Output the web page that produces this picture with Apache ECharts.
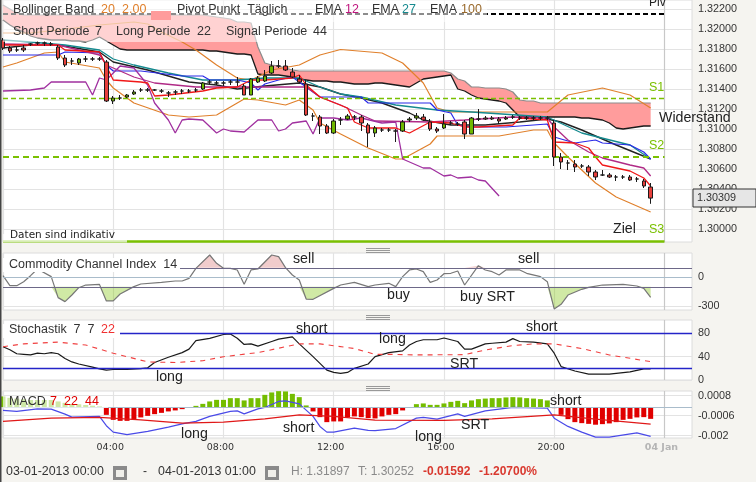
<!DOCTYPE html>
<html>
<head>
<meta charset="utf-8">
<style>html,body{margin:0;padding:0;background:#f5f4f0}#main{width:756px;height:482px}</style>
<script src="https://cdn.jsdelivr.net/npm/echarts@6/dist/echarts.min.js"></script>
</head>
<body>
<div id="main"></div>
<script>
// candles, 15 minute steps from 00:00 on 03 Jan
const candleOpen = [1.3189,1.3181,1.3179,1.3181,1.3185,1.3186,1.3186,1.3185,1.3182,1.3171,
1.3168,1.3166,1.3170,1.3170,1.3170,1.3167,1.3128,1.3131,1.3132,1.3135,
1.3139,1.3139,1.3139,1.3138,1.3136,1.3137,1.3138,1.3138,1.3139,1.3140,
1.3147,1.3146,1.3146,1.3147,1.3147,1.3143,1.3134,1.3147,1.3148,1.3156,
1.3163,1.3163,1.3157,1.3150,1.3145,1.3113,1.3112,1.3103,1.3096,1.3109,
1.3110,1.3112,1.3112,1.3104,1.3096,1.3099,1.3099,1.3098,1.3098,1.3109,
1.3111,1.3112,1.3107,1.3100,1.3101,1.3106,1.3105,1.3107,1.3095,1.3110,
1.3111,1.3111,1.3110,1.3110,1.3112,1.3111,1.3111,1.3111,1.3111,1.3111,
1.3106,1.3072,1.3066,1.3065,1.3063,1.3062,1.3057,1.3054,1.3054,1.3052,
1.3052,1.3052,1.3050,1.3048,1.3042];
const candleClose = [1.3181,1.3178,1.3179,1.3179,1.3185,1.3186,1.3186,1.3185,1.3171,1.3164,
1.3168,1.3170,1.3170,1.3170,1.3170,1.3128,1.3131,1.3131,1.3134,1.3137,
1.3139,1.3139,1.3139,1.3138,1.3136,1.3137,1.3138,1.3138,1.3139,1.3146,
1.3147,1.3146,1.3146,1.3147,1.3147,1.3134,1.3150,1.3151,1.3153,1.3163,
1.3163,1.3159,1.3152,1.3147,1.3114,1.3113,1.3103,1.3096,1.3108,1.3109,
1.3113,1.3112,1.3106,1.3096,1.3101,1.3099,1.3099,1.3098,1.3107,1.3110,
1.3113,1.3109,1.3100,1.3098,1.3105,1.3106,1.3105,1.3095,1.3111,1.3110,
1.3110,1.3110,1.3108,1.3111,1.3112,1.3111,1.3111,1.3111,1.3111,1.3111,
1.3072,1.3067,1.3066,1.3062,1.3063,1.3057,1.3052,1.3054,1.3052,1.3052,
1.3052,1.3049,1.3050,1.3043,1.30309];
const candleLow = [1.3179,1.3176,1.3177,1.3177,1.3183,1.3184,1.3183,1.3183,1.3169,1.3162,
1.3164,1.3164,1.3167,1.3168,1.3168,1.3127,1.3125,1.3129,1.3131,1.3134,
1.3137,1.3137,1.3138,1.3136,1.3132,1.3134,1.3135,1.3136,1.3137,1.3139,
1.3145,1.3144,1.3143,1.3144,1.3143,1.3134,1.3134,1.3146,1.3147,1.3155,
1.3161,1.3158,1.3151,1.3146,1.3113,1.3108,1.3095,1.3095,1.3095,1.3104,
1.3109,1.3109,1.3098,1.3082,1.3092,1.3097,1.3097,1.3087,1.3097,1.3107,
1.3109,1.3108,1.3098,1.3096,1.3100,1.3104,1.3103,1.3090,1.3095,1.3108,
1.3109,1.3109,1.3105,1.3109,1.3110,1.3109,1.3109,1.3109,1.3109,1.3109,
1.3063,1.3060,1.3059,1.3057,1.3061,1.3053,1.3049,1.3053,1.3051,1.3048,
1.3050,1.3048,1.3047,1.3041,1.30252];
const candleHigh = [1.3191,1.3183,1.3182,1.3184,1.3186,1.3188,1.3188,1.3187,1.3184,1.3174,
1.3171,1.3171,1.3173,1.3172,1.3172,1.3169,1.3133,1.3134,1.3135,1.3139,
1.3141,1.3141,1.3140,1.3140,1.3138,1.3139,1.3140,1.3140,1.3141,1.3147,
1.3149,1.3148,1.3148,1.3149,1.3152,1.3145,1.3151,1.3153,1.3159,1.3168,
1.3169,1.3169,1.3161,1.3154,1.3149,1.3116,1.3114,1.3105,1.3110,1.3112,
1.3115,1.3114,1.3114,1.3106,1.3103,1.3101,1.3101,1.3100,1.3109,1.3112,
1.3116,1.3115,1.3110,1.3102,1.3115,1.3108,1.3107,1.3109,1.3112,1.3120,
1.3113,1.3113,1.3112,1.3113,1.3114,1.3113,1.3113,1.3113,1.3113,1.3113,
1.3109,1.3076,1.3069,1.3069,1.3065,1.3064,1.3059,1.3059,1.3056,1.3054,
1.3054,1.3054,1.3052,1.3050,1.3046];

// pink cloud
const cloudUpper = [1.3224,1.3220,1.3216,1.3214,1.3214,1.3214,1.3214,1.3214,1.3214,1.3214,
1.3214,1.3214,1.3214,1.3214,1.3214,1.3214,1.3214,1.3214,1.3214,1.3214,
1.3214,1.3214,1.3214,1.3214,1.3214,1.3214,1.3214,1.3214,1.3214,1.3214,
1.3213,1.3212,1.3211,1.3210,1.3207,1.3207,1.3206,1.3182,1.3166,1.3164,
1.3163,1.3161,1.3159,1.3158,1.3158,1.3158,1.3158,1.3158,1.3158,1.3158,
1.3158,1.3158,1.3158,1.3158,1.3158,1.3158,1.3158,1.3158,1.3158,1.3158,
1.3158,1.3158,1.3158,1.3158,1.3158,1.3156,1.3150,1.3148,1.3142,1.3142,
1.3141,1.3141,1.3141,1.3140,1.3137,1.3129,1.3128,1.3128,1.3126,1.3126,
1.3126,1.3126,1.3126,1.3126,1.3126,1.3126,1.3126,1.3126,1.3126,1.3126,
1.3126,1.3126,1.3126,1.3126,1.3126];
const cloudLower = [1.3209,1.3204,1.3200,1.3197,1.3193,1.3191,1.3190,1.3189,1.3189,1.3189,
1.3188,1.3188,1.3187,1.3189,1.3192,1.3188,1.3184,1.3180,1.3179,1.3179,
1.3179,1.3179,1.3179,1.3179,1.3179,1.3179,1.3179,1.3179,1.3179,1.3179,
1.3178,1.3178,1.3177,1.3176,1.3175,1.3175,1.3174,1.3155,1.3154,1.3154,
1.3154,1.3153,1.3152,1.3150,1.3149,1.3148,1.3148,1.3148,1.3147,1.3147,
1.3146,1.3145,1.3145,1.3145,1.3146,1.3146,1.3145,1.3144,1.3143,1.3142,
1.3146,1.3150,1.3151,1.3152,1.3153,1.3154,1.3140,1.3138,1.3134,1.3131,
1.3130,1.3129,1.3128,1.3126,1.3119,1.3112,1.3112,1.3112,1.3112,1.3112,
1.3112,1.3112,1.3112,1.3112,1.3111,1.3111,1.3110,1.3109,1.3106,1.3101,
1.3100,1.3101,1.3102,1.3103,1.3103];

// overlay lines as [candle index, price]
const bollUpper = [[0,1.3196],[4,1.3196],[8,1.3199],[14,1.3204],[19,1.3207],[21,1.3205],[23,1.3197],[26,1.3187],[28,1.3179],[31,1.3164],[34,1.3151],[36,1.3149],[39,1.3159],[43,1.3164],[46,1.3174],[49,1.31795],[55,1.3176],[58,1.3166],[61,1.3146],[63,1.3121],[65,1.3117],[72,1.3117],[79,1.3117],[82,1.3134],[87,1.3141],[91,1.3134],[94,1.3121]];
const bollLower = [[0,1.3162],[2,1.3166],[6,1.3176],[8,1.3177],[9,1.3167],[14,1.3161],[15,1.3149],[16,1.3141],[19,1.3126],[24,1.3114],[27,1.3112],[31,1.3114],[33,1.3122],[35,1.3130],[37,1.3129],[41,1.3124],[43,1.3129],[45,1.3119],[46,1.3106],[49,1.3095],[53,1.3081],[57,1.3070],[58,1.3070],[62,1.3085],[63,1.3093],[72,1.3093],[77,1.3099],[79,1.3099],[80,1.3086],[82,1.3072],[86,1.3046],[89,1.3032],[94,1.3017]];
const purpleLine = [[0,1.3138],[4,1.3139],[6,1.3141],[7,1.3147],[9,1.3147],[12,1.3147],[13,1.3134],[14,1.3151],[15,1.3149],[17,1.3163],[19,1.3161],[21,1.3144],[22,1.3126],[24,1.3109],[25,1.3096],[26,1.3109],[27,1.3110],[29,1.3109],[31,1.3096],[32,1.3100],[33,1.3098],[35,1.3097],[37,1.3109],[39,1.3109],[40,1.3098],[41,1.3100],[42,1.3106],[44,1.3108],[45,1.3095],[46,1.3111],[48,1.3111],[50,1.3109],[52,1.3111],[55,1.3106],[57,1.3107],[58,1.3070],[61,1.3061],[62,1.3061],[64,1.3053],[65,1.3054],[66,1.3051],[68,1.3052],[69,1.3049],[70,1.3048],[72,1.3033]];
const ema12 = [[0,1.3185],[8,1.3184],[14,1.3174],[15,1.3164],[19,1.3152],[22,1.3146],[28,1.3142],[44,1.3142],[46,1.3132],[49,1.3124],[52,1.3114],[54,1.3108],[62,1.3107],[67,1.3109],[74,1.3112],[79,1.3111],[80,1.3102],[82,1.3089],[85,1.3077],[87,1.3071],[91,1.3064],[93,1.3061],[94,1.3053]];
const ema27 = [[0,1.3189],[4,1.3187],[9,1.3184],[14,1.3179],[16,1.3170],[19,1.3164],[24,1.3156],[29,1.3149],[34,1.3149],[38,1.3151],[43,1.3151],[46,1.3142],[49,1.3135],[52,1.3132],[57,1.3124],[63,1.3119],[68,1.3117],[79,1.3112],[84,1.3096],[91,1.3084],[94,1.3070]];
const ema100 = [[0,1.3181],[4,1.3184],[8,1.3184],[14,1.3177],[16,1.3167],[21,1.3159],[27,1.3147],[31,1.3144],[34,1.3140],[38,1.3143],[43,1.3146],[46,1.3142],[49,1.3135],[52,1.3131],[55,1.3126],[59,1.3116],[61,1.3109],[65,1.3104],[70,1.3104],[75,1.3107],[79,1.3110],[81,1.3107],[84,1.3099],[89,1.3084],[94,1.3070]];
const blueLine = [[0,1.3174],[8,1.3174],[9,1.3177],[14,1.3176],[15,1.3164],[16,1.3158],[20,1.3158],[26,1.3153],[29,1.3153],[30,1.3149],[34,1.3149],[36,1.3146],[37,1.3139],[38,1.3145],[40,1.3149],[42,1.3152],[43,1.3147],[46,1.3132],[52,1.3132],[53,1.3126],[62,1.3126],[63,1.3119],[65,1.3116],[66,1.3104],[68,1.3102],[73,1.3102],[79,1.3105],[80,1.3092],[83,1.3086],[86,1.3089],[87,1.3086],[91,1.3084],[93,1.3077],[94,1.3070]];
const redLine = [[0,1.3184],[8,1.3184],[9,1.3179],[14,1.3177],[15,1.3163],[16,1.3149],[20,1.3147],[21,1.3146],[22,1.3133],[24,1.3134],[29,1.3138],[31,1.3141],[34,1.3142],[36,1.3149],[38,1.3149],[42,1.3151],[43,1.3154],[44,1.3144],[46,1.3132],[50,1.3121],[51,1.3107],[53,1.3101],[57,1.3101],[59,1.3096],[62,1.3107],[65,1.3106],[67,1.3102],[69,1.3102],[74,1.3104],[75,1.3111],[79,1.3109],[80,1.3087],[83,1.3086],[85,1.3081],[86,1.3072],[87,1.3064],[91,1.3058],[93,1.3051],[94,1.3043]];

// pivot levels
const pivotLevel = 1.32153;
const s1Level = 1.31307;
const s2Level = 1.3072;
const s3Level = 1.2988;

// commodity channel index
const cciValues = [[0,17],[1,-88],[2,-88],[3,-46],[4,17],[5,87],[7,7],[8,-213],[9,-255],[10,-186],[11,-109],[12,-81],[14,-74],[15,-248],[16,-248],[17,-175],[19,-98],[20,-70],[23,-53],[25,-39],[26,-39],[27,-11],[28,94],[30,234],[31,147],[32,94],[33,94],[34,77],[35,-74],[36,77],[37,87],[39,234],[40,217],[41,101],[42,24],[43,-28],[44,-228],[45,-231],[48,-116],[49,-81],[51,-53],[53,-98],[54,-81],[56,-63],[57,-98],[58,7],[59,77],[60,87],[61,59],[62,-53],[63,-28],[64,38],[65,42],[66,66],[67,-81],[69,122],[70,77],[71,59],[72,24],[73,77],[75,77],[76,42],[78,7],[79,-46],[80,-332],[81,-283],[82,-186],[84,-126],[85,-105],[87,-81],[90,-74],[92,-91],[93,-116],[94,-210]];
const cciLevels = [100, 0, -100];

// stochastic
const stochK = [[0,57],[1,52],[2,45],[3,44],[4,43],[5,46],[6,45],[7,47],[8,45],[9,37],[10,31],[11,27.5],[13,22],[14,19],[15,17],[16,18],[18,18],[20,19.5],[21,21],[22,30],[24,39],[26,47],[27,53],[28,67.5],[30,71.5],[32,78],[33,79],[34,71.5],[35,61],[36,62],[37,58],[39,66],[40,70],[42,74],[43,62],[45,40],[47,17],[48,13],[49,11.5],[50,13],[51,20],[53,27.5],[54,40],[56,47],[58,50],[59,60],[60,66],[61,69],[63,69],[64,72],[66,66],[67,53],[68,53],[70,62],[71,63],[73,65],[74,71],[75,66],[77,65],[79,62],[80,46],[81,23],[83,15.5],[85,10],[88,10],[91,14],[93,19],[94,19]];
const stochD = [[0,57],[3,62],[8,65],[12,60],[16,46],[21,31],[25,30],[29,33],[32,40],[37,47],[43,62],[46,62],[51,54],[54,44],[56,44],[60,43],[67,43.5],[70,51.5],[74,59],[77,62],[80,62],[84,54],[88,43],[94,31.5]];
const stochLevels = [80, 20];

// MACD
const macdHist = [7.5e-4,6.5e-4,6e-4,5.5e-4,5e-4,5e-4,5e-4,5e-4,4e-4,3e-4,2e-4,2e-4,1.5e-4,1e-4,0.5e-4,
-5.4e-4,-8.9e-4,-9.6e-4,-9.6e-4,-8.9e-4,-7.2e-4,-6.1e-4,-4.9e-4,-4e-4,-3e-4,-2.3e-4,-1.4e-4,-0.2e-4,
0.9e-4,2.3e-4,4e-4,5.1e-4,5.1e-4,6.3e-4,6.3e-4,4.7e-4,6.3e-4,6.3e-4,8.6e-4,10.3e-4,11.2e-4,11e-4,9.3e-4,7e-4,1.2e-4,
-3e-4,-7e-4,-10.5e-4,-10e-4,-10e-4,-7e-4,-6.5e-4,-7e-4,-7.7e-4,-7.9e-4,-6.5e-4,-5.4e-4,-4.9e-4,-2.3e-4,-0.2e-4,
2.1e-4,2.6e-4,1.6e-4,1.6e-4,2.6e-4,3.7e-4,4.4e-4,2.8e-4,4.7e-4,5.6e-4,6e-4,6.3e-4,6.3e-4,6.8e-4,7e-4,6.8e-4,6.3e-4,6e-4,5.6e-4,4.7e-4,
-0.7e-4,-5.4e-4,-8.4e-4,-10.5e-4,-11.2e-4,-11.7e-4,-12.3e-4,-11.9e-4,-11.4e-4,-10.5e-4,-8.9e-4,-8.2e-4,-7.2e-4,-7e-4,-8.2e-4];
const macdBlue = [[0,-2.3e-4],[2,-3e-4],[5,-1.2e-4],[7,-1.4e-4],[9,-4.9e-4],[10,-7e-4],[14,-6.5e-4],[15,-13e-4],[16,-17.5e-4],[18,-19.3e-4],[21,-17e-4],[24,-14e-4],[26,-11.7e-4],[28,-10e-4],[30,-6.5e-4],[33,-3e-4],[34,-2.6e-4],[35,-4.7e-4],[37,-1.2e-4],[38,-0.2e-4],[40,4e-4],[41,4.4e-4],[43,2.3e-4],[45,-6.5e-4],[46,-13.5e-4],[47,-17.5e-4],[48,-17.5e-4],[51,-14.7e-4],[53,-16.3e-4],[54,-16.5e-4],[57,-15e-4],[60,-7.7e-4],[61,-7.2e-4],[63,-8.4e-4],[66,-4.7e-4],[67,-6.5e-4],[70,-2.6e-4],[74,-0.2e-4],[79,-0.7e-4],[80,-7.7e-4],[82,-13.5e-4],[84,-17.5e-4],[86,-21e-4],[88,-21e-4],[92,-18e-4],[94,-20.5e-4]];
const macdRed = [[0,-10e-4],[7,-7.7e-4],[14,-7.2e-4],[20,-8.9e-4],[26,-11.2e-4],[32,-10.5e-4],[38,-8.2e-4],[43,-5.4e-4],[48,-6.5e-4],[54,-9.1e-4],[64,-9.3e-4],[71,-8.2e-4],[80,-5.4e-4],[86,-8.4e-4],[94,-11.9e-4]];

// axis ticks
const priceTicks = [1.30,1.302,1.304,1.306,1.308,1.31,1.312,1.314,1.316,1.318,1.32,1.322];
const cciTicks = [0, -300];
const stochTicks = [0, 40, 80];
const macdTicks = [0.0008, -0.0006, -0.002];
const xLabels = {16:'04:00', 32:'08:00', 48:'12:00', 64:'16:00', 80:'20:00', 96:'04 Jan'};
const lastPrice = 1.30309;

const categories = [];
for (let i = 0; i <= 100; i++) categories.push(xLabels[i] || String(i));

const gridLine = '#e3e3e3';
const sans = '"Liberation Sans"';

function panelX(gridIndex, showLabels) {
  return {
    type: 'category', gridIndex, data: categories, boundaryGap: false,
    axisLine: {show: false}, axisTick: {show: false},
    axisLabel: {
      show: showLabels, margin: 5, fontFamily: '"DejaVu Sans"', fontSize: 9.5, color: '#333',
      padding: [0, 6, 0, 0], hideOverlap: false,
      interval: (i) => i > 0 && i % 16 === 0,
      formatter: (v) => v === '04 Jan' ? '{j|04 Jan}' : v,
      rich: {j: {color: '#b5b5b5', fontWeight: 'bold', fontFamily: '"DejaVu Sans"', fontSize: 9.5}}
    },
    splitLine: {
      show: true, interval: (i) => i % 16 === 0,
      lineStyle: {color: [gridLine, gridLine, gridLine, gridLine, gridLine, gridLine, '#c8c8c8'], width: 1.2}
    }
  };
}
function panelY(gridIndex, min, max, ticks, fmt) {
  return {
    type: 'value', gridIndex, min, max, position: 'right', scale: true,
    axisLine: {show: false}, axisTick: {show: false, customValues: ticks},
    axisLabel: {
      margin: 6, fontFamily: sans, fontSize: 10.8, color: '#333', customValues: ticks, formatter: fmt,
      showMinLabel: true, showMaxLabel: true, padding: [2, 0, 0, 0]
    },
    splitLine: {show: true, lineStyle: {color: gridLine, width: 1.2}}
  };
}
function line(name, data, color, width, xi) {
  return {name, type: 'line', data, xAxisIndex: xi || 0, yAxisIndex: xi || 0, symbol: 'none', silent: true,
    lineStyle: {color, width}, z: 4};
}

const series = [];
// cloud is stacked: lower edge first, then the thickness on top of it
series.push({type: 'line', stack: 'cloud', data: cloudLower, symbol: 'none', silent: true,
  lineStyle: {color: '#1a1a1a', width: 1.3}, areaStyle: {opacity: 0}, z: 2});
series.push({type: 'line', stack: 'cloud', data: cloudUpper.map((v, i) => v - cloudLower[i]), symbol: 'none', silent: true,
  lineStyle: {color: '#8c8c8c', width: 1.2}, areaStyle: {color: '#ff9c9c', opacity: 1}, z: 2});

const levelMark = (vals) => ({
  silent: true, symbol: 'none', label: {show: false}, animation: false,
  data: vals.map(([v, color, width, type]) => [{coord: [0, v], lineStyle: {color, width, type}}, {coord: [96, v]}])
});

series.push({
  type: 'candlestick', silent: true, barWidth: 4, z: 5,
  data: candleOpen.map((o, i) => [o, candleClose[i], candleLow[i], candleHigh[i]]),
  itemStyle: {color: '#6fb800', color0: '#e8403c', borderColor: '#1a1a1a', borderColor0: '#1a1a1a', borderWidth: 1},
  markLine: levelMark([
    [pivotLevel, '#000', 2, [5, 3]],
    [s1Level, '#7ac000', 1.4, [5, 3]],
    [s2Level, '#7ac000', 2, [6, 4]],
    [s3Level, '#7ac000', 2.5, 'solid']
  ])
});
series.push(line('bollUpper', bollUpper, '#e0802c', 1.2));
series.push(line('bollLower', bollLower, '#e0802c', 1.2));
series.push(line('ema100', ema100, '#222', 1.4));
series.push(line('ema27', ema27, '#158a8f', 1.3));
series.push(line('blue', blueLine, '#2a2ae8', 1.2));
series.push(line('ema12', ema12, '#b02a86', 1.3));
series.push(line('purple', purpleLine, '#a0309f', 1.3));
series.push(line('red', redLine, '#f01818', 1.3));

// CCI: threshold lines, fills past +100 / -100, then the curve
series.push({type: 'line', xAxisIndex: 1, yAxisIndex: 1, data: cciValues.map(([i, v]) => [i, Math.max(v, 100)]), symbol: 'none', silent: true,
  lineStyle: {width: 0}, areaStyle: {origin: 100, color: 'rgba(216,110,110,0.5)'}, z: 3});
series.push({type: 'line', xAxisIndex: 1, yAxisIndex: 1, data: cciValues.map(([i, v]) => [i, Math.min(v, -100)]), symbol: 'none', silent: true,
  lineStyle: {width: 0}, areaStyle: {origin: -100, color: 'rgba(122,192,0,0.5)'}, z: 3});
const cciLine = line('cci', cciValues, '#777', 1.2, 1);
cciLine.markLine = {
  silent: true, symbol: 'none', label: {show: false}, animation: false,
  data: [
    [{coord: [0, cciLevels[0]], lineStyle: {color: '#6d6888', width: 1.2, type: 'solid'}}, {coord: [100, cciLevels[0]]}],
    [{coord: [0, cciLevels[1]], lineStyle: {color: '#a9bccb', width: 1.2, type: 'solid'}}, {coord: [100, cciLevels[1]]}],
    [{coord: [0, cciLevels[2]], lineStyle: {color: '#6d6888', width: 1.2, type: 'solid'}}, {coord: [100, cciLevels[2]]}]
  ]
};
series.push(cciLine);

// stochastic
const kLine = line('k', stochK, '#1a1a1a', 1.2, 2);
kLine.markLine = {
  silent: true, symbol: 'none', label: {show: false}, animation: false,
  data: stochLevels.map((v) => [{coord: [0, v], lineStyle: {color: '#2424c8', width: 1.3, type: 'solid'}}, {coord: [100, v]}])
};
series.push(kLine);
const dLine = line('d', stochD, '#f04040', 1.1, 2);
dLine.lineStyle.type = [5, 5];
series.push(dLine);

// MACD
series.push({
  type: 'bar', xAxisIndex: 3, yAxisIndex: 3, barWidth: 5, silent: true, z: 3,
  data: macdHist.map((v) => ({value: v, itemStyle: {color: v >= 0 ? '#74bd00' : '#e00000'}})),
  markLine: {
    silent: true, symbol: 'none', label: {show: false}, animation: false,
    data: [[{coord: [0, 0], lineStyle: {color: '#a9bccb', width: 1.2, type: 'solid'}}, {coord: [100, 0]}]]
  }
});
series.push(line('macd', macdBlue, '#4a4ae8', 1.2, 3));
series.push(line('signal', macdRed, '#e01818', 1.2, 3));

// texts and boxes laid over the panels
const txt = (x, y, s, fill, font) => ({type: 'text', x, y, z: 60, silent: true,
  style: {text: s, fill: fill || '#333', font: font || ('12.5px ' + sans), textVerticalAlign: 'middle'}});
const box = (x, y, w, h, fill, opacity, stroke) => ({type: 'rect', z: 50, silent: true,
  shape: {x, y, width: w, height: h}, style: {fill, opacity: opacity == null ? 1 : opacity, stroke: stroke || null}});
const grip = (y) => [0, 2, 4].map((d) => ({type: 'rect', z: 50, silent: true,
  shape: {x: 366, y: y + d, width: 24, height: 1}, style: {fill: '#999'}}));
const calendar = (x) => [box(x, 466, 14, 14, '#8a8a8a'), box(x + 3, 470, 8, 7, '#f0efea')];
const big = '14.2px ' + sans;

const graphic = [
  box(0, 0, 1.5, 482, '#444'),
  box(3, 0, 484, 22, '#fff', 0.55),
  box(3, 22, 325, 20, '#fff', 0.55),
  box(3, 234, 124, 8.5, '#fff', 0.7),
  box(3, 258, 177, 14, '#fff', 1),
  box(3, 324, 117, 14, '#fff', 1),
  box(3, 396, 105, 12, '#fff', 0.65),
  box(151, 11, 20, 9, '#ff9c9c'),
  txt(13, 10, 'Bollinger Band'), txt(101, 10, '20', '#e0802c'), txt(122, 10, '2.00', '#e0802c'),
  txt(177, 10, 'Pivot Punkt  Täglich'),
  txt(315, 10, 'EMA'), txt(345, 10, '12', '#c0157e'),
  txt(372, 10, 'EMA'), txt(402, 10, '27', '#158a8f'),
  txt(430, 10, 'EMA'), txt(461, 10, '100', '#9a6a2c'),
  txt(13, 32, 'Short Periode'), txt(95, 32, '7'),
  txt(116, 32, 'Long Periode'), txt(197, 32, '22'),
  txt(226, 32, 'Signal Periode'), txt(313, 32, '44'),
  txt(649, 3, 'Piv', '#222', '12px ' + sans),
  txt(649, 88, 'S1', '#7ac000', '12.5px ' + sans),
  txt(649, 146, 'S2', '#7ac000', '12.5px ' + sans),
  txt(649, 230, 'S3', '#7ac000', '12.5px ' + sans),
  txt(659, 118, 'Widerstand', '#222', big),
  txt(613, 229, 'Ziel', '#222', big),
  txt(10, 235, 'Daten sind indikativ', '#222', '10.5px "DejaVu Sans"'),
  box(693, 189, 63, 18, '#e6e6e6', 1, '#333'),
  txt(697, 198.5, lastPrice.toFixed(5), '#333', '10.8px ' + sans),

  ...grip(248), ...grip(315), ...grip(386),

  txt(9, 265, 'Commodity Channel Index  14'),
  txt(293, 259, 'sell', '#222', big), txt(518, 259, 'sell', '#222', big),
  txt(387, 295, 'buy', '#222', big), txt(460, 297, 'buy SRT', '#222', big),

  txt(9, 330, 'Stochastik  7  7'), txt(101, 330, '22', '#f03030'),
  txt(296, 329, 'short', '#222', big), txt(526, 327, 'short', '#222', big),
  txt(379, 339, 'long', '#222', big), txt(450, 364, 'SRT', '#222', big), txt(156, 377, 'long', '#222', big),

  txt(9, 402, 'MACD'), txt(50, 402, '7', '#e00000'), txt(64, 402, '22', '#e00000'), txt(85, 402, '44', '#e00000'),
  txt(181, 434, 'long', '#222', big), txt(283, 428, 'short', '#222', big),
  txt(415, 437, 'long', '#222', big), txt(461, 425, 'SRT', '#222', big), txt(550, 401, 'short', '#222', big),

  txt(6, 472, '03-01-2013 00:00', '#333', '12.4px ' + sans),
  ...calendar(113),
  txt(143, 472, '-', '#333', '12px ' + sans),
  txt(158, 472, '04-01-2013 01:00', '#333', '12.4px ' + sans),
  ...calendar(265),
  txt(291, 472, 'H: 1.31897', '#8a8a8a', '12px ' + sans),
  txt(358, 472, 'T: 1.30252', '#8a8a8a', '12px ' + sans),
  txt(423, 472, '-0.01592', '#d9392f', 'bold 12px ' + sans),
  txt(479, 472, '-1.20700%', '#d9392f', 'bold 12px ' + sans)
];

const panel = {show: true, backgroundColor: '#fff', borderColor: '#dcdcdc', borderWidth: 1, left: 3, right: 64};
const chart = echarts.init(document.getElementById('main'));
chart.setOption({
  animation: false,
  backgroundColor: '#f5f4f0',
  grid: [
    {...panel, top: 0, height: 242},
    {...panel, top: 253, height: 57},
    {...panel, top: 320, height: 60},
    {...panel, top: 391, height: 47}
  ],
  xAxis: [panelX(0, false), panelX(1, false), panelX(2, false), panelX(3, true)],
  yAxis: [
    panelY(0, 1.2987, 1.3229, priceTicks, (v) => v.toFixed(5)),
    panelY(1, -343, 255, cciTicks, (v) => String(v)),
    panelY(2, 0, 102.9, stochTicks, (v) => String(v)),
    panelY(3, -0.00216, 0.00113, macdTicks, (v) => String(v))
  ],
  visualMap: [{
    show: false, type: 'piecewise', seriesIndex: series.indexOf(cciLine), dimension: 1,
    pieces: [
      {lte: -100, color: '#74bd00'},
      {gt: -100, lte: 100, color: '#777'},
      {gt: 100, color: '#de8f8f'}
    ]
  }],
  series,
  graphic
});
</script>
</body>
</html>
